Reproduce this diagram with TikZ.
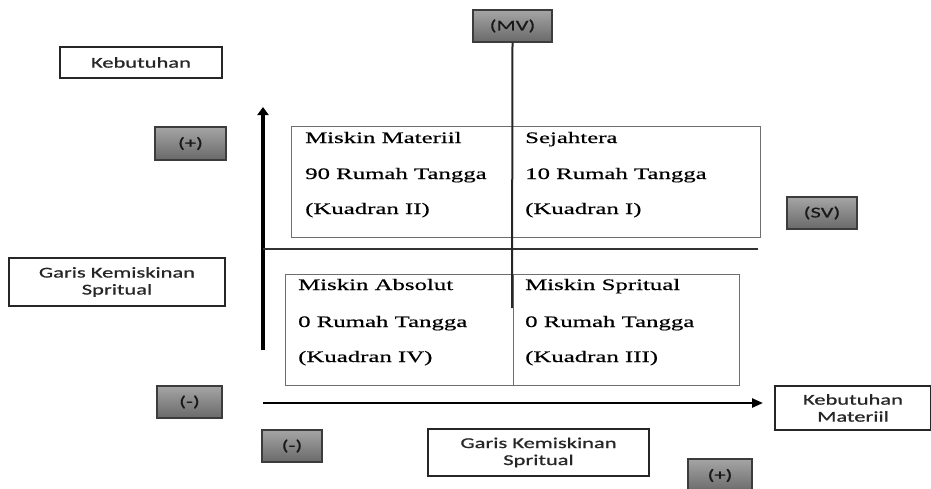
\documentclass[tikz,border=0pt]{standalone}
\usepackage{fontspec}
\usetikzlibrary{arrows.meta}
\newfontfamily\sansf[FakeStretch=1.5,FakeBold=0.8]{Carlito}
\newfontfamily\serf[FakeStretch=1.55,FakeBold=0.5]{Liberation Serif}
\definecolor{gtop}{RGB}{165,165,165}
\definecolor{gbot}{RGB}{105,105,105}
\definecolor{gedge}{RGB}{60,60,60}
\definecolor{qedge}{RGB}{110,110,110}
\begin{document}
\begin{tikzpicture}[x=1pt,y=-1pt,
  lbl/.style={draw=black!85,line width=1.6pt,fill=white,inner sep=0pt,align=center,
    font=\sansf\fontsize{15}{17}\selectfont,text=black!85},
  gbox/.style={draw=gedge,line width=1.3pt,top color=gtop,bottom color=gbot,inner sep=0pt,
    font=\sansf\fontsize{15}{17}\selectfont,text=black!90},
  qbox/.style={draw=qedge,line width=0.9pt,inner sep=0pt},
  qtxt/.style={anchor=base west,inner sep=0pt,font=\serf\fontsize{16}{18}\selectfont},
  vtip/.style={-{Triangle[length=8pt,width=11pt]}},
  htip/.style={-{Triangle[length=11pt,width=9pt]}}]
\useasboundingbox (0,0) rectangle (931,488);
\begin{scope}
\clip (0,0) rectangle (931,488);
% quadrant boxes
\node[qbox,minimum width=469pt,minimum height=111pt] (topbox) at (525.5,181.5) {};
\node[qbox,minimum width=454pt,minimum height=111pt] (botbox) at (512,329.5) {};
\coordinate (dtop) at (513,274);
\coordinate (dbot) at (513,385);
\draw[qedge,line width=0.9pt] (dtop) -- (dbot);
% labels
\node[lbl,minimum width=162pt,minimum height=31pt] (keb) at (141,62.5) {Kebutuhan};
\node[gbox,minimum width=71pt,minimum height=33pt] (plusL) at (190.5,143.5) {(+)};
\node[gbox,minimum width=79pt,minimum height=32pt] (mv) at (512.5,26) {(MV)};
\node[gbox,minimum width=70pt,minimum height=32pt] (sv) at (822,213) {(SV)};
\node[lbl,minimum width=216pt,minimum height=48pt] (gksL) at (117,282) {Garis Kemiskinan\\Spritual};
\node[gbox,minimum width=65pt,minimum height=32pt] (minusL) at (189.5,402) {(-)};
\node[lbl,minimum width=156pt,minimum height=44pt] (kebm) at (853,408) {Kebutuhan\\Materiil};
\node[gbox,minimum width=60pt,minimum height=32pt] (minusB) at (292,446) {(-)};
\node[lbl,minimum width=221pt,minimum height=47pt] (gksB) at (538.5,452.5) {Garis Kemiskinan\\Spritual};
\node[gbox,minimum width=64pt,minimum height=33pt] (plusB) at (720,475.5) {(+)};
% axes and lines
\coordinate (vbot) at (263,350);
\coordinate (vtop) at (263,107);
\coordinate (hl) at (263,403);
\coordinate (hr) at (763,403);
\coordinate (ml) at (263,249);
\coordinate (mr) at (758,249);
\coordinate (mvend) at (512,308);
\draw[black,line width=3.2pt,vtip] (vbot) -- (vtop);
\draw[black,line width=2.4pt,htip] (hl) -- (hr);
\draw[black!80,line width=1.4pt] (ml) -- (mr);
\draw[black!85,line width=2pt] (mv.south) -- (mvend);
% quadrant texts
\node[qtxt] (q2a) at (305,143) {Miskin Materiil};
\node[qtxt] (q2b) at (305,179) {90 Rumah Tangga};
\node[qtxt] (q2c) at (305,214) {(Kuadran II)};
\node[qtxt] (q1a) at (525,143) {Sejahtera};
\node[qtxt] (q1b) at (525,179) {10 Rumah Tangga};
\node[qtxt] (q1c) at (525,214) {(Kuadran I)};
\node[qtxt] (q4a) at (298,290) {Miskin Absolut};
\node[qtxt] (q4b) at (298,327) {0 Rumah Tangga};
\node[qtxt] (q4c) at (298,362) {(Kuadran IV)};
\node[qtxt] (q3a) at (525,290) {Miskin Spritual};
\node[qtxt] (q3b) at (525,327) {0 Rumah Tangga};
\node[qtxt] (q3c) at (525,362) {(Kuadran III)};
\end{scope}
\end{tikzpicture}
\end{document}
